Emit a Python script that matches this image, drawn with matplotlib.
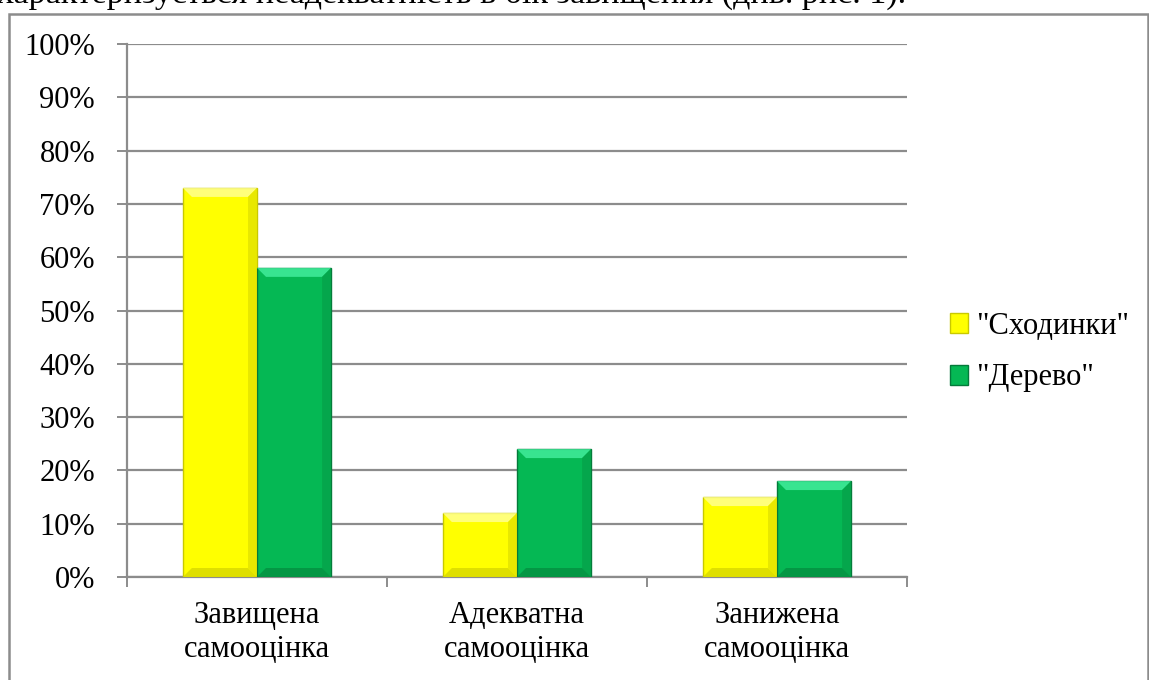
import numpy as np
import matplotlib
matplotlib.use("Agg")
import matplotlib.pyplot as plt
from matplotlib.patches import Rectangle, Polygon
from matplotlib.transforms import IdentityTransform

categories = ["Завищена\nсамооцінка", "Адекватна\nсамооцінка", "Занижена\nсамооцінка"]
series_names = ['"Сходинки"', '"Дерево"']
shodynky = [73, 12, 15]
derevo = [58, 24, 18]
y_ticks = list(range(0, 101, 10))

plt.rcParams["font.family"] = ["Liberation Serif", "DejaVu Serif"]

W, H = 1149, 680
DPI = 100
fig = plt.figure(figsize=(W / DPI, H / DPI), dpi=DPI)

# cut-off line of document text above the chart
fig.text(-0.003, 1 - 3 / H, "характеризується неадекватність в бік завищення (див. рис. 1).",
         fontsize=24.5, va="baseline", ha="left", color="black")

# chart frame
fig.patches.append(Rectangle((9 / W, -0.01), (W - 10) / W, 1 - 14 / H + 0.01,
                             transform=fig.transFigure, fill=False,
                             edgecolor="#8c8c8c", linewidth=1.8))

ax = fig.add_axes([127 / W, 1 - 577 / H, 780 / W, 533 / H])

x = np.arange(len(categories))
bw = 0.285
b1 = ax.bar(x - bw / 2, shodynky, bw, color="#ffff00", edgecolor="#c9c900", linewidth=1.0,
            label=series_names[0], zorder=3)
b2 = ax.bar(x + bw / 2, derevo, bw, color="#05b854", edgecolor="#047a3a", linewidth=1.0,
            label=series_names[1], zorder=3)

ax.set_xlim(-0.5, len(categories) - 0.5)
ax.set_ylim(0, 100)
ax.set_yticks(y_ticks)
ax.set_yticklabels([f"{v}%" for v in y_ticks])
ax.yaxis.grid(True, color="#8c8c8c", linewidth=1.6, zorder=0)
ax.set_xticks(x)
ax.set_xticklabels(categories, linespacing=1.25)
ax.set_xticks(np.arange(len(categories) + 1) - 0.5, minor=True)
ax.tick_params(axis="x", which="major", length=0, pad=17, labelsize=22)
ax.tick_params(axis="x", which="minor", length=7, width=1.4, color="#8c8c8c")
ax.tick_params(axis="y", length=7, width=1.4, color="#8c8c8c", labelsize=22, pad=16)
for s in ["top", "right"]:
    ax.spines[s].set_visible(False)
for s in ["left", "bottom"]:
    ax.spines[s].set_color("#8c8c8c")
    ax.spines[s].set_linewidth(1.6)

# bevel shading on the bars, in pixel space
fig.canvas.draw()
shades = {0: ("#ffff9a", "#e3e300", "#d8d800"), 1: ("#45f0a0", "#06a24a", "#048f41")}
bev = 9
for k, bars in enumerate([b1, b2]):
    light, side, bottom = shades[k]
    for r in bars:
        (x0, y0), (x1, y1) = ax.transData.transform([(r.get_x(), 0),
                                                      (r.get_x() + r.get_width(), r.get_height())])
        b = min(bev, (y1 - y0) / 3)
        polys = [
            ([(x0, y1), (x1, y1), (x1 - b, y1 - b), (x0 + b, y1 - b)], light),
            ([(x1, y1), (x1, y0), (x1 - b, y0 + b), (x1 - b, y1 - b)], side),
            ([(x0, y0), (x1, y0), (x1 - b, y0 + b), (x0 + b, y0 + b)], bottom),
        ]
        for pts, c in polys:
            fig.patches.append(Polygon(pts, closed=True, transform=IdentityTransform(),
                                       facecolor=c, edgecolor="none", alpha=0.8, zorder=4))

fig.legend(loc="center left", bbox_to_anchor=(922 / W, 1 - 352 / H), frameon=False,
           fontsize=22, handlelength=0.62, handleheight=0.62, handletextpad=0.25,
           labelspacing=0.75)

fig.savefig("out.png", dpi=DPI)
